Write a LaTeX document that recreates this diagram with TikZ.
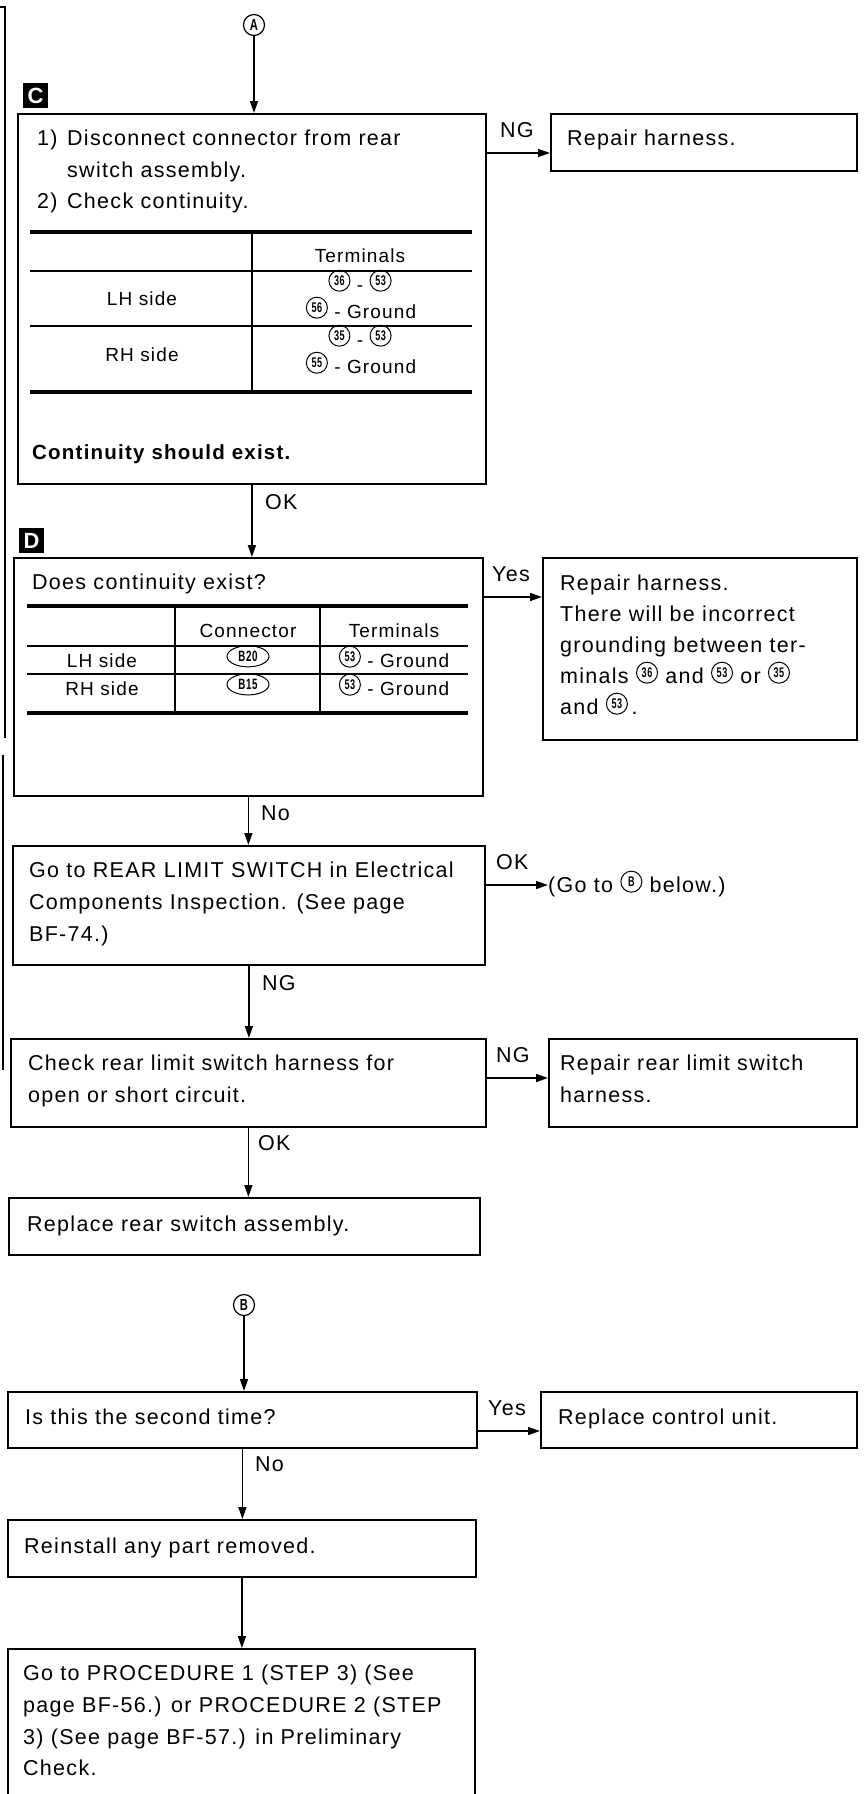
\documentclass[tikz,border=0pt]{standalone}
\usepackage{fontspec}
\usepackage{graphicx}
\setmainfont{Liberation Sans}[LetterSpace=6]
\usetikzlibrary{arrows.meta,calc,shapes.geometric}
\newcommand\cnum[1]{\tikz[baseline=-5.5pt]\node[circle,draw,line width=1pt,minimum size=21pt,inner sep=0pt,font=\bfseries\fontsize{14}{14}\selectfont]{\scalebox{0.65}[1]{#1}};}
\newcommand\conn[1]{\tikz[baseline=-5.5pt]\node[ellipse,draw,line width=1pt,minimum width=42pt,minimum height=21pt,inner sep=0pt,font=\bfseries\fontsize{15}{15}\selectfont]{\scalebox{0.65}[1]{#1}};}
\begin{document}
\begin{tikzpicture}[x=1pt,y=-1pt,
  box/.style={draw,line width=1.8pt,inner sep=0pt,anchor=north west},
  arr/.style={line width=1.5pt,-{Triangle[length=12pt,width=8pt]}},
  txt/.style={anchor=base west,inner sep=0pt,font=\fontsize{21.5}{31.5}\selectfont},
  ctxt/.style={anchor=base,inner sep=0pt,font=\fontsize{19}{24}\selectfont},
  btxt/.style={anchor=base west,inner sep=0pt,font=\bfseries\fontsize{20.5}{30}\selectfont},
  tagbox/.style={fill=black,text=white,minimum size=25pt,inner sep=0pt,font=\bfseries\fontsize{22}{22}\selectfont},
  circ/.style={circle,draw,line width=1.2pt,minimum size=21pt,inner sep=0pt,font=\bfseries\fontsize{16}{16}\selectfont},
  hrule/.style={line width=3.5pt},
  trule/.style={line width=1.5pt},
  edge/.style={line width=1.5pt}
]
\useasboundingbox (0,0) rectangle (866,1794);
\clip (0,0) rectangle (866,1794);

% left margin lines
\draw[edge] (0,7) -- (5,7) -- (5,738);
\draw[edge] (3,755) -- (3,1070);

% connector circles
\node[circ] (A) at (254,25) {\scalebox{0.7}[1]{A}};
\node[circ] (B) at (244,1305) {\scalebox{0.7}[1]{B}};

% tags
\node[tagbox] (tagC) at (35.5,95.5) {C};
\node[tagbox] (tagD) at (31.5,540.5) {D};

% boxes
\node[box,minimum width=468pt,minimum height=370pt] (C) at (17,113) {};
\node[box,minimum width=306pt,minimum height=57pt] (R1) at (550,113) {};
\node[box,minimum width=469pt,minimum height=238pt] (D) at (13,557) {};
\node[box,minimum width=314pt,minimum height=182pt] (R2) at (542,557) {};
\node[box,minimum width=472pt,minimum height=119pt] (E) at (12,845) {};
\node[box,minimum width=475pt,minimum height=88pt] (F) at (10,1038) {};
\node[box,minimum width=308pt,minimum height=88pt] (R3) at (548,1038) {};
\node[box,minimum width=471pt,minimum height=57pt] (G) at (8,1197) {};
\node[box,minimum width=469pt,minimum height=56pt] (H) at (7,1391) {};
\node[box,minimum width=316pt,minimum height=56pt] (R4) at (540,1391) {};
\node[box,minimum width=468pt,minimum height=57pt] (I) at (7,1519) {};
\node[box,minimum width=467pt,minimum height=220pt] (J) at (7,1648) {};

% box C text
\node[txt] (c1n) at (37,145) {1)};
\node[txt] (c1) at (67,145) {Disconnect connector from rear};
\node[txt] (c2) at (67,177) {switch assembly.};
\node[txt] (c3n) at (37,208) {2)};
\node[txt] (c3) at (67,208) {Check continuity.};
\draw[hrule] (30,232) -- (472,232);
\draw[trule] (30,271) -- (472,271);
\draw[trule] (30,326) -- (472,326);
\draw[hrule] (30,392) -- (472,392);
\draw[trule] (252,232) -- (252,392);
\node[ctxt] (ct) at (360,262) {Terminals};
\node[ctxt] (cl) at (142,305) {LH side};
\node[ctxt] (cl1) at (360,291) {\cnum{36} - \cnum{53}};
\node[ctxt] (cl2) at (361,318) {\cnum{56} - Ground};
\node[ctxt] (cr) at (142,361) {RH side};
\node[ctxt] (cr1) at (360,346) {\cnum{35} - \cnum{53}};
\node[ctxt] (cr2) at (361,373) {\cnum{55} - Ground};
\node[btxt] (cb) at (32,459) {Continuity should exist.};

% R1
\node[txt] (r1) at (567,145) {Repair harness.};

% box D
\node[txt] (d1) at (32,589) {Does continuity exist?};
\draw[hrule] (27,606) -- (468,606);
\draw[trule] (27,646) -- (468,646);
\draw[trule] (27,674) -- (468,674);
\draw[hrule] (27,713) -- (468,713);
\draw[trule] (175,606) -- (175,713);
\draw[trule] (320,606) -- (320,713);
\node[ctxt] (dh1) at (248,637) {Connector};
\node[ctxt] (dh2) at (394,637) {Terminals};
\node[ctxt] (dl) at (102,667) {LH side};
\node[ctxt] (dl1) at (248,667) {\conn{B20}};
\node[ctxt] (dl2) at (394,667) {\cnum{53} - Ground};
\node[ctxt] (dr) at (102,695) {RH side};
\node[ctxt] (dr1) at (248,695) {\conn{B15}};
\node[ctxt] (dr2) at (394,695) {\cnum{53} - Ground};

% R2
\node[txt] (r2a) at (560,590) {Repair harness.};
\node[txt] (r2b) at (560,621) {There will be incorrect};
\node[txt] (r2c) at (560,652) {grounding between ter-};
\node[txt] (r2d) at (560,683) {minals \cnum{36} and \cnum{53} or \cnum{35}};
\node[txt] (r2e) at (560,714) {and \cnum{53}\,.};

% box E
\node[txt] (e1) at (29,877) {Go to REAR LIMIT SWITCH in Electrical};
\node[txt] (e2) at (29,909) {Components Inspection. (See page};
\node[txt] (e3) at (29,941) {BF-74.)};
\node[txt] (goB) at (548,892) {(Go to \cnum{B} below.)};

% box F
\node[txt] (f1) at (28,1070) {Check rear limit switch harness for};
\node[txt] (f2) at (28,1102) {open or short circuit.};
\node[txt] (r3a) at (560,1070) {Repair rear limit switch};
\node[txt] (r3b) at (560,1102) {harness.};

% box G
\node[txt] (g1) at (27,1231) {Replace rear switch assembly.};

% box H
\node[txt] (h1) at (25,1424) {Is this the second time?};
\node[txt] (r4) at (558,1424) {Replace control unit.};

% box I
\node[txt] (i1) at (24,1553) {Reinstall any part removed.};

% box J
\node[txt] (j1) at (23,1680) {Go to PROCEDURE 1 (STEP 3) (See};
\node[txt] (j2) at (23,1712) {page BF-56.) or PROCEDURE 2 (STEP};
\node[txt] (j3) at (23,1744) {3) (See page BF-57.) in Preliminary};
\node[txt] (j4) at (23,1775) {Check.};

% vertical connectors
\draw[arr] (A) -- (A |- C.north);
\draw[arr] (C.south) -- (C.south |- D.north);
\draw[arr] (D.south) -- (D.south |- E.north);
\draw[arr] (E.south) -- (E.south |- F.north);
\draw[arr] (F.south) -- (F.south |- G.north);
\draw[arr] (B) -- (B |- H.north);
\draw[arr] (H.south) -- (H.south |- I.north);
\draw[arr] (I.south) -- (I.south |- J.north);

% horizontal connectors
\coordinate (y1) at (0,153);
\coordinate (y2) at (0,597);
\coordinate (y3) at (0,885);
\coordinate (y4) at (0,1078);
\coordinate (y5) at (0,1431);
\draw[arr] (C.east |- y1) -- (R1.west |- y1);
\draw[arr] (D.east |- y2) -- (R2.west |- y2);
\draw[arr] (E.east |- y3) -- (goB.west |- y3);
\draw[arr] (F.east |- y4) -- (R3.west |- y4);
\draw[arr] (H.east |- y5) -- (R4.west |- y5);

% connector labels
\node[txt] (lNG1) at (500,137) {NG};
\node[txt] (lOK1) at (265,509) {OK};
\node[txt] (lYes1) at (492,581) {Yes};
\node[txt] (lNo1) at (261,820) {No};
\node[txt] (lOK2) at (496,869) {OK};
\node[txt] (lNG2) at (262,990) {NG};
\node[txt] (lNG3) at (496,1062) {NG};
\node[txt] (lOK3) at (258,1150) {OK};
\node[txt] (lYes2) at (488,1415) {Yes};
\node[txt] (lNo2) at (255,1471) {No};
\end{tikzpicture}
\end{document}
